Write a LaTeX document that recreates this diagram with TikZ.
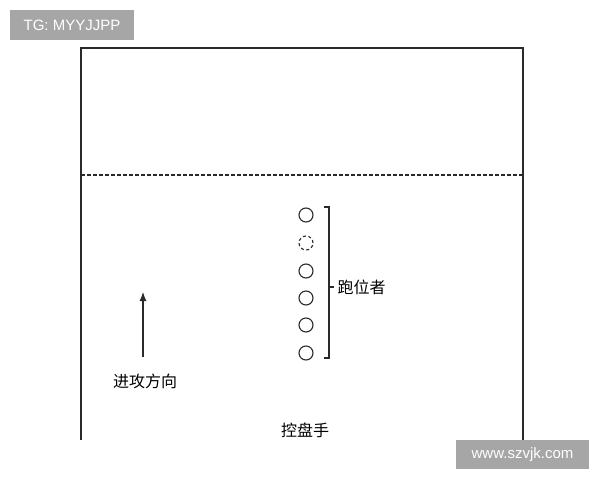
\documentclass[tikz,border=0pt]{standalone}
\usepackage{fontspec}
\setmainfont{Liberation Sans}
\newfontfamily\cjk{Noto Sans CJK SC}
\usetikzlibrary{arrows.meta}
\definecolor{tagbg}{HTML}{A6A6A6}
\definecolor{courtline}{HTML}{2A2A2A}

\begin{document}
\begin{tikzpicture}[x=1pt, y=-1pt, line width=1.1pt, draw=courtline]
            \useasboundingbox (0, 0) rectangle (600, 480);

            \node[fill=tagbg, text=white, minimum width=124pt, minimum height=30pt, font=\fontsize{15}{17}\selectfont] (tg) at (72, 25) {TG: MYYJJPP};
            \node[fill=tagbg, text=white, minimum width=133pt, minimum height=29pt, font=\fontsize{15}{17}\selectfont] (web) at (522.5, 454.5) {www.szvjk.com};

            \coordinate (c1) at (81, 440);
            \coordinate (c2) at (81, 48);
            \coordinate (c3) at (523, 48);
            \coordinate (c4) at (523, 440);
            \draw[courtline] (c1) -- (c2) -- (c3) -- (c4);

            \coordinate (d1) at (81, 175);
            \coordinate (d2) at (523, 175);
            \draw[courtline, dashed, dash pattern=on 3.5pt off 2.5pt] (d1) -- (d2);

            \node[draw=courtline, circle, minimum size=14pt, inner sep=0pt] (r1) at (306, 215) {};
            \node[draw=courtline, circle, dashed, dash pattern=on 3pt off 2.5pt, minimum size=14pt, inner sep=0pt] (r2) at (306, 243) {};
            \node[draw=courtline, circle, minimum size=14pt, inner sep=0pt] (r3) at (306, 271) {};
            \node[draw=courtline, circle, minimum size=14pt, inner sep=0pt] (r4) at (306, 298) {};
            \node[draw=courtline, circle, minimum size=14pt, inner sep=0pt] (r5) at (306, 325) {};
            \node[draw=courtline, circle, minimum size=14pt, inner sep=0pt] (r6) at (306, 353) {};

            \coordinate (b1) at (324, 207);
            \coordinate (b2) at (329, 207);
            \coordinate (b3) at (329, 358);
            \coordinate (b4) at (324, 358);
            \coordinate (bm) at (329, 287);
            \coordinate (bt) at (334, 287);
            \draw[courtline] (b1) -- (b2) -- (b3) -- (b4);
            \draw[courtline] (bm) -- (bt);
            \node[anchor=west, inner sep=0pt, font=\cjk\fontsize{16}{18}\selectfont] (runner) at (337, 287) {跑位者};

            \coordinate (a1) at (143, 357);
            \coordinate (a2) at (143, 292);
            \draw[courtline, -{Latex[length=9pt, width=7pt]}] (a1) -- (a2);
            \node[inner sep=0pt, font=\cjk\fontsize{16}{18}\selectfont] (dir) at (145, 381) {进攻方向};

            \node[inner sep=0pt, font=\cjk\fontsize{16}{18}\selectfont] (handler) at (305, 430) {控盘手};
    	\end{tikzpicture}
\end{document}
